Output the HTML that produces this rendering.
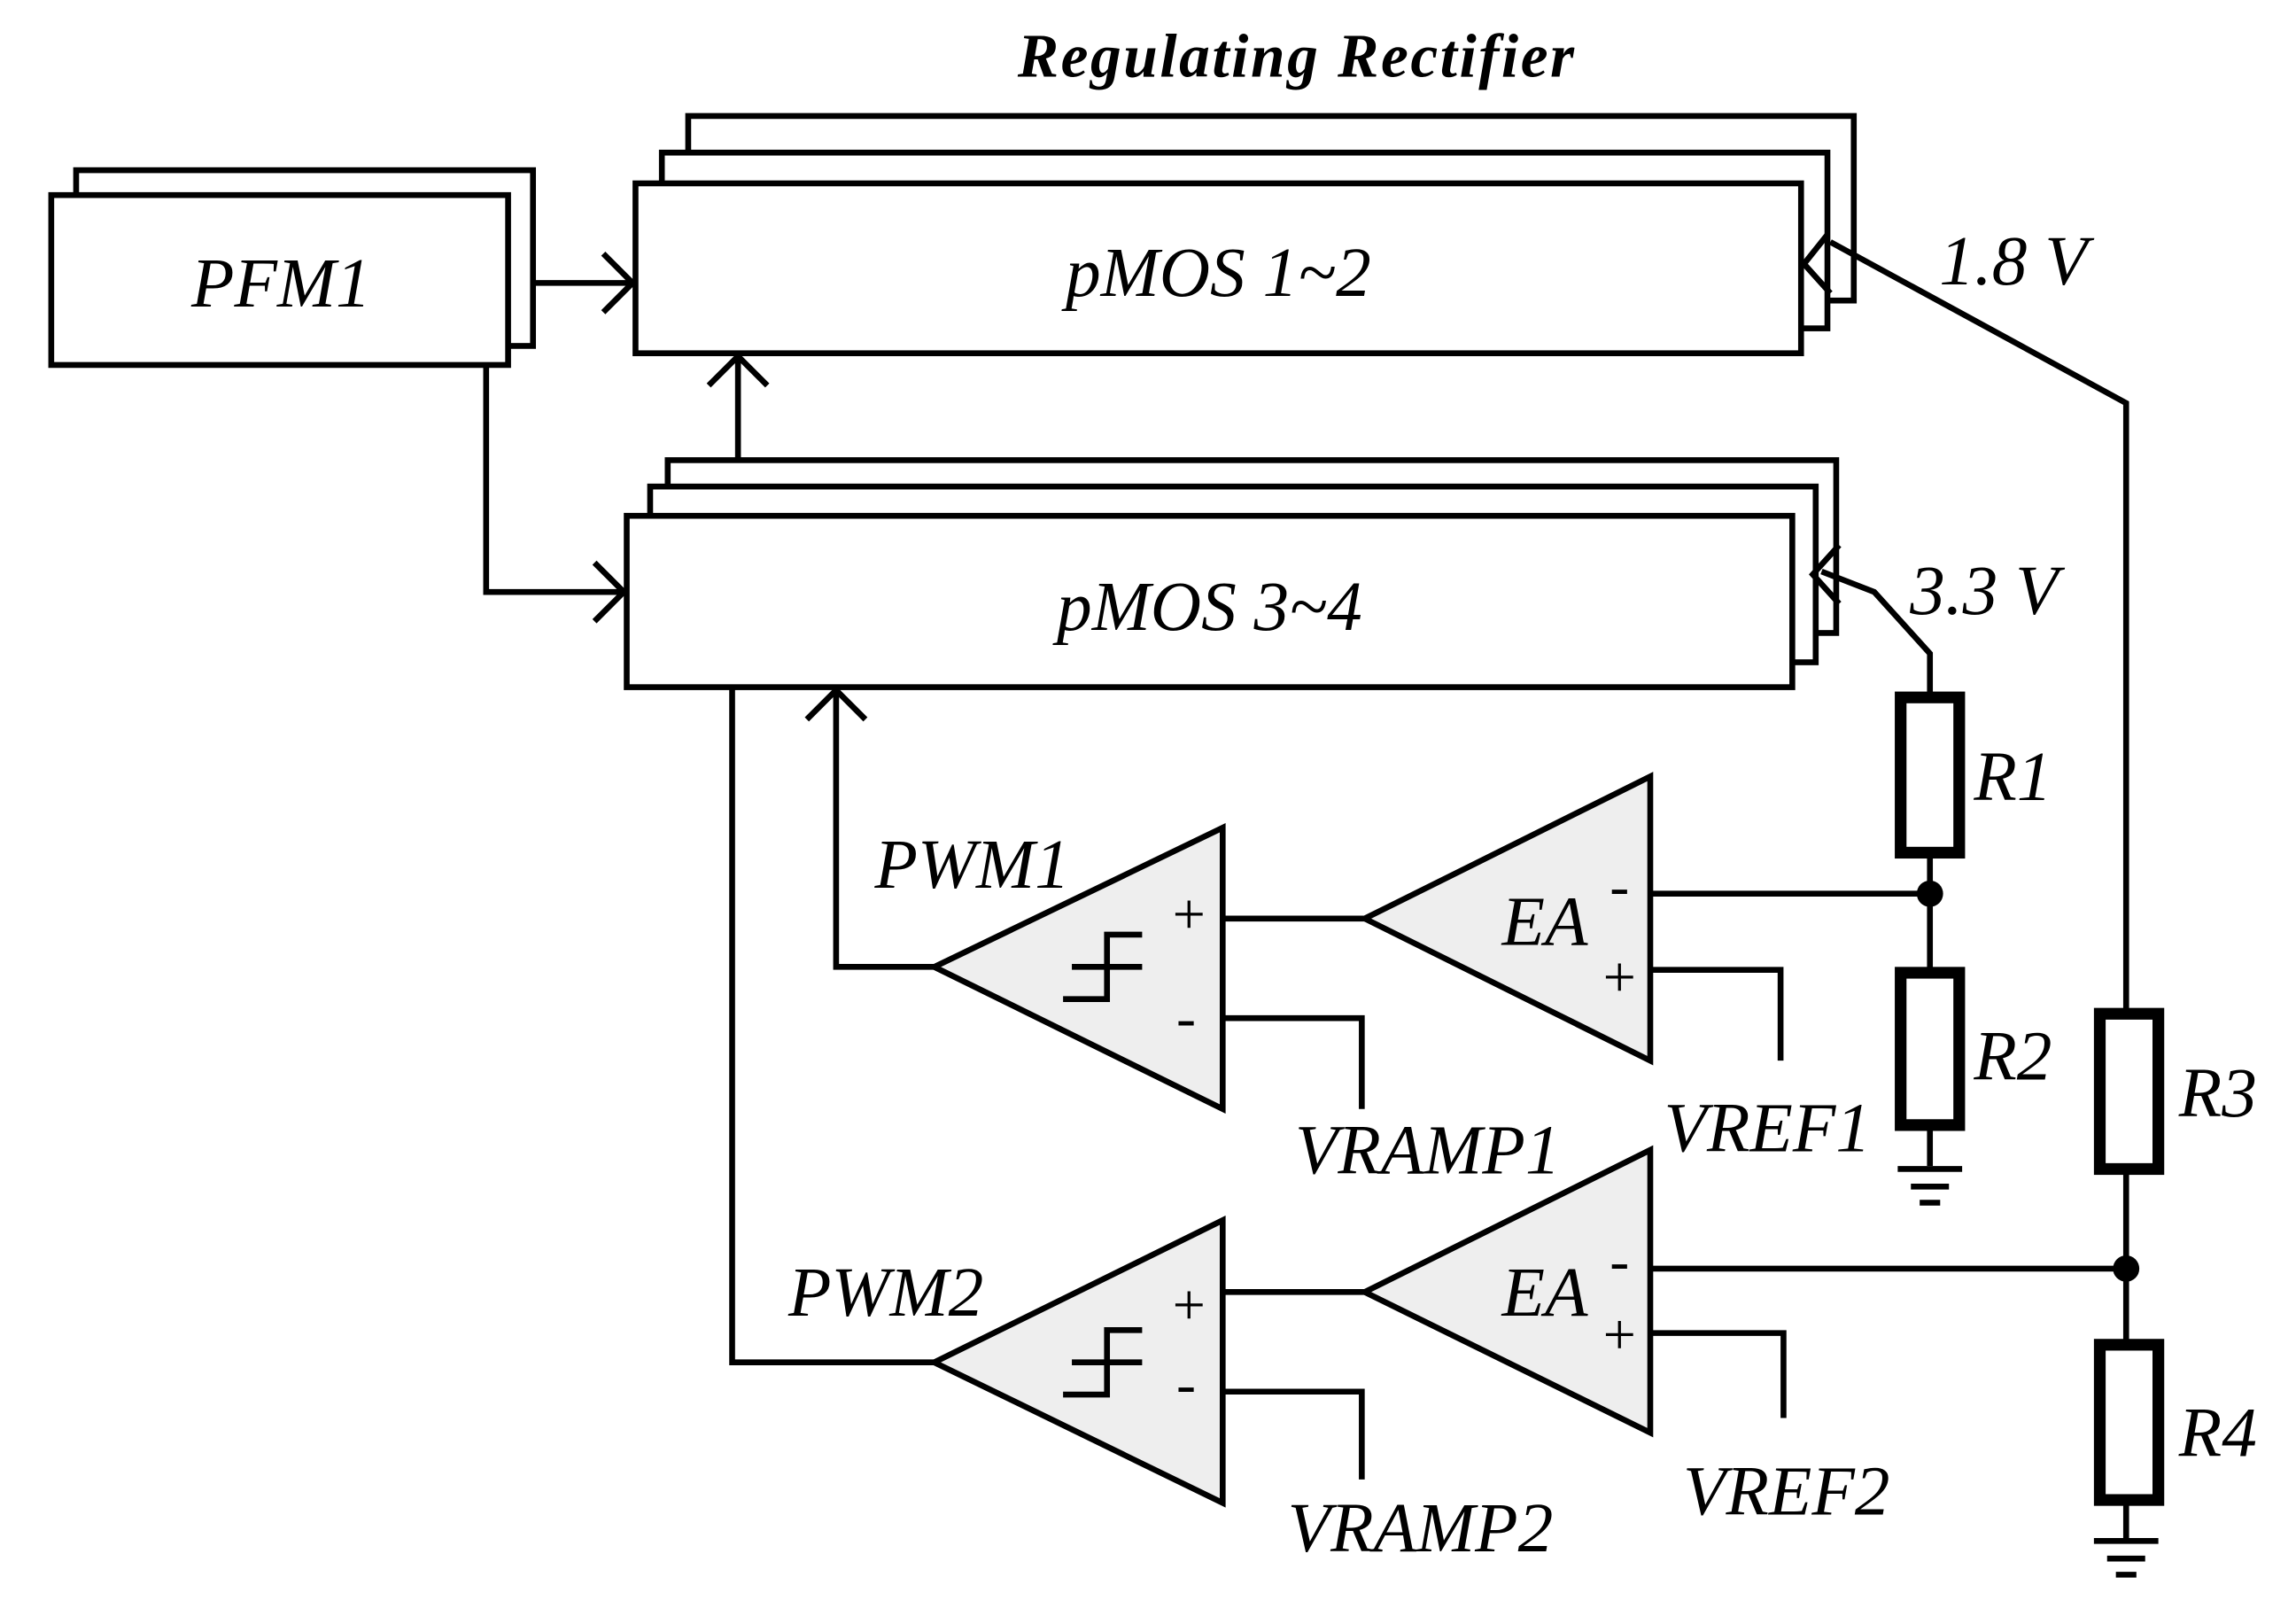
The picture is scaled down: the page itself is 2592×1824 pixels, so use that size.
<!DOCTYPE html>
<html><head><meta charset="utf-8"><style>html,body{margin:0;padding:0;background:#fff}svg{display:block}</style></head>
<body>
<svg width="2592" height="1824" viewBox="0 0 1568 1103" xmlns="http://www.w3.org/2000/svg">
<g fill="none" stroke="#000" stroke-width="4">
<rect x="52" y="116" width="312" height="120" fill="#fff"/>
<rect x="35" y="133" width="312" height="116" fill="#fff"/>
<rect x="470" y="79" width="796" height="126" fill="#fff"/>
<rect x="452" y="104" width="796" height="120" fill="#fff"/>
<rect x="434" y="125" width="796" height="116" fill="#fff"/>
<rect x="456" y="314" width="798" height="118" fill="#fff"/>
<rect x="444" y="332" width="796" height="120" fill="#fff"/>
<rect x="428" y="352" width="796" height="117" fill="#fff"/>
<polyline points="364,193 432,193"/><polyline points="412,173 432,193 412,213"/>
<polyline points="332,249 332,404 426,404"/><polyline points="406,384 426,404 406,424"/>
<polyline points="504,314 504,243"/><polyline points="484,263 504,243 524,263"/>
<polyline points="638,660 571,660 571,471"/><polyline points="551,491 571,471 591,491"/>
<polyline points="638,930 500,930 500,469"/>
<polyline points="1250,165 1452,275 1452,692"/><polyline points="1248,160 1232,180 1250,200"/>
<polyline points="1244,390 1280,404 1318,446 1318,476"/><polyline points="1256,372 1238,392 1256,412"/>
<line x1="1318" y1="582" x2="1318" y2="664"/>
<line x1="1318" y1="768" x2="1318" y2="796"/>
<line x1="1296" y1="798" x2="1340" y2="798"/><line x1="1305" y1="810" x2="1331" y2="810"/><line x1="1311" y1="821" x2="1325" y2="821"/>
<line x1="1452" y1="798" x2="1452" y2="918"/>
<line x1="1452" y1="1024" x2="1452" y2="1050"/>
<line x1="1430" y1="1052" x2="1474" y2="1052"/><line x1="1439" y1="1064" x2="1465" y2="1064"/><line x1="1445" y1="1075" x2="1459" y2="1075"/>
<polygon points="1127,530 1127,724 932,627" fill="#eee"/>
<line x1="1127" y1="610" x2="1318" y2="610"/>
<polyline points="1127,662 1216,662 1216,724"/>
<line x1="932" y1="627" x2="835" y2="627"/>
<polygon points="835,565 835,757 638,660" fill="#eee"/>
<polyline points="835,695 930,695 930,757"/>
<polyline points="726,682 756,682 756,638 780,638"/><line x1="732" y1="660" x2="780" y2="660"/>
<polygon points="1127,785 1127,978 932,882" fill="#eee"/>
<line x1="1127" y1="866" x2="1452" y2="866"/>
<polyline points="1127,910 1218,910 1218,968"/>
<line x1="932" y1="882" x2="835" y2="882"/>
<polygon points="835,833 835,1026 638,930" fill="#eee"/>
<polyline points="835,950 930,950 930,1010"/>
<polyline points="726,952 756,952 756,908 780,908"/><line x1="732" y1="930" x2="780" y2="930"/>
</g>
<g fill="none" stroke="#000" stroke-width="8">
<rect x="1298" y="476" width="40" height="106"/>
<rect x="1298" y="664" width="40" height="104"/>
<rect x="1434" y="692" width="40" height="106"/>
<rect x="1434" y="918" width="40" height="106"/>
</g>
<circle cx="1318" cy="610" r="9"/><circle cx="1452" cy="866" r="9"/>
<g font-family="Liberation Serif, serif" font-style="italic" fill="#000" font-size="48">
<text x="885" y="52" text-anchor="middle" font-weight="bold" font-size="42" textLength="380">Regulating Rectifier</text>
<text x="192" y="209" text-anchor="middle">PFM1</text>
<text x="832" y="202" text-anchor="middle">pMOS 1~2</text>
<text x="826" y="430" text-anchor="middle">pMOS 3~4</text>
<text x="1375" y="194" text-anchor="middle">1.8 V</text>
<text x="1355" y="419" text-anchor="middle">3.3 V</text>
<text x="1348" y="546">R1</text>
<text x="1348" y="737">R2</text>
<text x="1488" y="762">R3</text>
<text x="1488" y="994">R4</text>
<text x="1055" y="645" text-anchor="middle">EA</text>
<text x="1055" y="898" text-anchor="middle">EA</text>
<text x="664" y="606" text-anchor="middle">PWM1</text>
<text x="605" y="898" text-anchor="middle">PWM2</text>
<text x="975" y="801" text-anchor="middle">VRAMP1</text>
<text x="970" y="1059" text-anchor="middle">VRAMP2</text>
<text x="1207" y="786" text-anchor="middle">VREF1</text>
<text x="1220" y="1034" text-anchor="middle">VREF2</text>
</g>
<g font-family="Liberation Serif, serif" fill="#000" font-size="40">
<text x="1106" y="618" text-anchor="middle">-</text>
<text x="1106" y="680" text-anchor="middle">+</text>
<text x="812" y="637" text-anchor="middle">+</text>
<text x="810" y="708" text-anchor="middle">-</text>
<text x="1106" y="874" text-anchor="middle">-</text>
<text x="1106" y="924" text-anchor="middle">+</text>
<text x="812" y="904" text-anchor="middle">+</text>
<text x="810" y="958" text-anchor="middle">-</text>
</g>
</svg>
</body></html>
